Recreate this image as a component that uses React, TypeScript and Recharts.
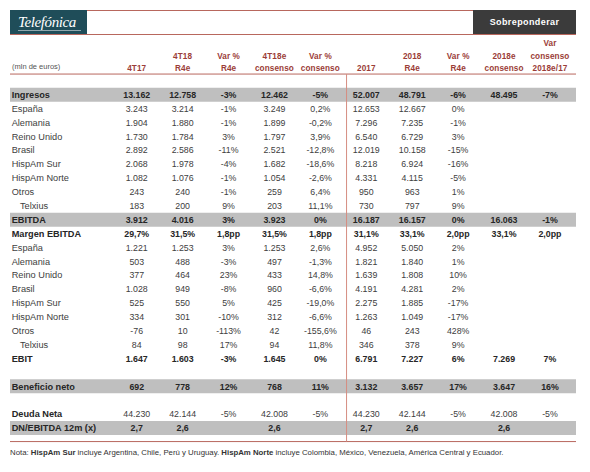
import React from "react";
import { ScatterChart, Scatter, XAxis, YAxis, ReferenceArea, ReferenceLine } from "recharts";

// column headers (multi-line)
const headers = [
  ["4T17"],
  ["4T18", "R4e"],
  ["Var %", "R4e"],
  ["4T18e", "consenso"],
  ["Var %", "consenso"],
  ["2017"],
  ["2018", "R4e"],
  ["Var %", "R4e"],
  ["2018e", "consenso"],
  ["Var", "consenso", "2018e/17"],
];

const rowLabels = [
  "Ingresos", "España", "Alemania", "Reino Unido", "Brasil", "HispAm Sur", "HispAm Norte", "Otros", "Telxius",
  "EBITDA", "Margen EBITDA", "España", "Alemania", "Reino Unido", "Brasil", "HispAm Sur", "HispAm Norte", "Otros", "Telxius",
  "EBIT", "", "Beneficio neto", "", "Deuda Neta", "DN/EBITDA 12m (x)",
];

const q4T17 = ["13.162", "3.243", "1.904", "1.730", "2.892", "2.068", "1.082", "243", "183", "3.912", "29,7%", "1.221", "503", "377", "1.028", "525", "334", "-76", "84", "1.647", "", "692", "", "44.230", "2,7"];
const q4T18 = ["12.758", "3.214", "1.880", "1.784", "2.586", "1.978", "1.076", "240", "200", "4.016", "31,5%", "1.253", "488", "464", "949", "550", "301", "10", "98", "1.603", "", "778", "", "42.144", "2,6"];
const qVarR4e = ["-3%", "-1%", "-1%", "3%", "-11%", "-4%", "-1%", "-1%", "9%", "3%", "1,8pp", "3%", "-3%", "23%", "-8%", "5%", "-10%", "-113%", "17%", "-3%", "", "12%", "", "-5%", ""];
const q4T18Cons = ["12.462", "3.249", "1.899", "1.797", "2.521", "1.682", "1.054", "259", "203", "3.923", "31,5%", "1.253", "497", "433", "960", "425", "312", "42", "94", "1.645", "", "768", "", "42.008", "2,6"];
const qVarCons = ["-5%", "0,2%", "-0,2%", "3,9%", "-12,8%", "-18,6%", "-2,6%", "6,4%", "11,1%", "0%", "1,8pp", "2,6%", "-1,3%", "14,8%", "-6,6%", "-19,0%", "-6,6%", "-155,6%", "11,8%", "0%", "", "11%", "", "-5%", ""];
const y2017 = ["52.007", "12.653", "7.296", "6.540", "12.019", "8.218", "4.331", "950", "730", "16.187", "31,1%", "4.952", "1.821", "1.639", "4.191", "2.275", "1.263", "46", "346", "6.791", "", "3.132", "", "44.230", "2,7"];
const y2018 = ["48.791", "12.667", "7.235", "6.729", "10.158", "6.924", "4.115", "963", "797", "16.157", "33,1%", "5.050", "1.840", "1.808", "4.281", "1.885", "1.049", "243", "378", "7.227", "", "3.657", "", "42.144", "2,6"];
const yVarR4e = ["-6%", "0%", "-1%", "3%", "-15%", "-16%", "-5%", "1%", "9%", "0%", "2,0pp", "2%", "1%", "10%", "2%", "-17%", "-17%", "428%", "9%", "6%", "", "17%", "", "-5%", ""];
const y2018Cons = ["48.495", "", "", "", "", "", "", "", "", "16.063", "33,1%", "", "", "", "", "", "", "", "", "7.269", "", "3.647", "", "42.008", "2,6"];
const yVarCons = ["-7%", "", "", "", "", "", "", "", "", "-1%", "2,0pp", "", "", "", "", "", "", "", "", "7%", "", "16%", "", "-5%", ""];

const columns = [q4T17, q4T18, qVarR4e, q4T18Cons, qVarCons, y2017, y2018, yVarR4e, y2018Cons, yVarCons];

const boldRows = [0, 9, 10, 19, 21, 24];
const boldLabels = [0, 9, 10, 19, 21, 23, 24];
const grayRows = [0, 9, 21, 24];
const indentRows = [8, 18];

const FONT = "'Liberation Sans', Arial, sans-serif";
const HEAD = "#9b3d38";
const LINE = "#b8675d";

const X_MIN = -2.76;
const X_MAX = 9.567;

const cellData = columns.map((col, j) =>
  col
    .map((v, i) => ({ x: j, y: i, v, bold: boldRows.includes(i) }))
    .filter((d) => d.v !== "")
);

const CellText = (props: any) => {
  const { cx, cy, payload } = props;
  return (
    <text
      x={cx}
      y={cy}
      dy={3.2}
      textAnchor="middle"
      fontFamily={FONT}
      fontSize={8.8}
      fontWeight={payload.bold ? 700 : 400}
      fill={payload.bold ? "#262626" : "#404040"}
    >
      {payload.v}
    </text>
  );
};

const HeaderTick = (props: any) => {
  const { x, y, payload } = props;
  const lines = headers[payload.value];
  return (
    <g>
      {lines.map((l, k) => (
        <text
          key={k}
          x={x}
          y={y - 17 - (lines.length - 1 - k) * 12.3}
          textAnchor="middle"
          fontFamily={FONT}
          fontSize={8.2}
          fontWeight={700}
          letterSpacing={0.1}
          fill={HEAD}
        >
          {l}
        </text>
      ))}
    </g>
  );
};

const RowTick = (props: any) => {
  const { x, y, payload } = props;
  const i = payload.value;
  return (
    <text
      x={x + 1.7 + (indentRows.includes(i) ? 8.3 : 0)}
      y={y}
      dy={3.2}
      textAnchor="start"
      fontFamily={FONT}
      fontSize={9.2}
      fontWeight={boldLabels.includes(i) ? 700 : 400}
      fill={boldLabels.includes(i) ? "#262626" : "#404040"}
    >
      {rowLabels[i]}
    </text>
  );
};

export default function App() {
  const rowTicks = rowLabels.map((_, i) => i).filter((i) => rowLabels[i] !== "");
  return (
    <div style={{ position: "absolute", left: 0, top: 0, width: 590, height: 472, background: "#fff", fontFamily: FONT }}>
      {/* header frame */}
      <div
        style={{
          position: "absolute", left: 10, top: 10, width: 77, height: 25, background: "#1f4d59",
          color: "#fff", fontFamily: "'Liberation Serif', serif", fontStyle: "italic", fontSize: 15,
          lineHeight: "24px", paddingLeft: 8, boxSizing: "border-box", letterSpacing: -0.4, whiteSpace: "nowrap",
        }}
      >
        Telefónica
        <div style={{ position: "absolute", left: 8, right: 6, top: 20, height: 1, background: "rgba(255,255,255,0.5)" }} />
      </div>
      <div style={{ position: "absolute", left: 87, top: 10, width: 386, height: 1, background: LINE }} />
      <div style={{ position: "absolute", left: 10, top: 34, width: 566, height: 1, background: LINE }} />
      <div
        style={{
          position: "absolute", left: 473, top: 10, width: 103, height: 24, background: "#3b3b3b",
          color: "#fff", fontSize: 9, fontWeight: 700, textAlign: "center", lineHeight: "24px", letterSpacing: 0.4,
        }}
      >
        Sobreponderar
      </div>
      <div style={{ position: "absolute", left: 12, top: 62, fontSize: 7.5, color: "#555" }}>(mln de euros)</div>

      <ScatterChart width={590} height={472} margin={{ top: 37.8, right: 14, bottom: 37.1, left: 9 }}>
        <XAxis
          type="number"
          dataKey="x"
          orientation="top"
          domain={[X_MIN, X_MAX]}
          allowDataOverflow
          ticks={headers.map((_, j) => j)}
          interval={0}
          tick={<HeaderTick />}
          axisLine={false}
          tickLine={false}
          tickSize={0}
          tickMargin={0}
          height={50}
        />
        <YAxis
          type="number"
          dataKey="y"
          domain={[-0.5, 24.5]}
          allowDataOverflow
          reversed
          ticks={rowTicks}
          interval={0}
          tick={<RowTick />}
          axisLine={false}
          tickLine={false}
          tickSize={0}
          tickMargin={0}
          width={1}
        />
        {grayRows.map((i) => (
          <ReferenceArea key={i} x1={X_MIN} x2={X_MAX} y1={i - 0.5} y2={i + 0.5} fill="#bfbfbf" fillOpacity={1} stroke="none" ifOverflow="visible" />
        ))}
        <ReferenceLine segment={[{ x: X_MIN, y: -1.49 }, { x: X_MAX, y: -1.49 }]} stroke={LINE} ifOverflow="visible" />
        <ReferenceLine segment={[{ x: X_MIN, y: 24.98 }, { x: X_MAX, y: 24.98 }]} stroke={LINE} ifOverflow="visible" />
        <ReferenceLine segment={[{ x: 4.57, y: -1.49 }, { x: 4.57, y: 24.98 }]} stroke="#d58d82" ifOverflow="visible" />
        {cellData.map((d, j) => (
          <Scatter key={j} data={d} shape={<CellText />} isAnimationActive={false} />
        ))}
      </ScatterChart>

      <div style={{ position: "absolute", left: 10, top: 448, fontSize: 7.8, color: "#333", whiteSpace: "nowrap" }}>
        Nota: <b>HispAm Sur</b> incluye Argentina, Chile, Perú y Uruguay. <b>HispAm Norte</b> incluye Colombia, México, Venezuela, América Central y Ecuador.
      </div>
    </div>
  );
}
